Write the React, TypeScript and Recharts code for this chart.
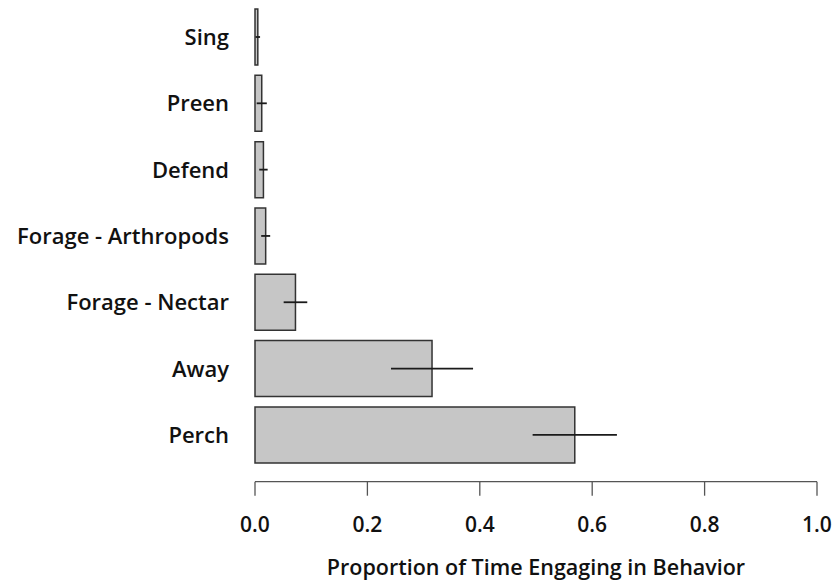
import { BarChart, Bar, XAxis, YAxis, ErrorBar, Label } from "recharts";

const behaviors = ["Sing", "Preen", "Defend", "Forage - Arthropods", "Forage - Nectar", "Away", "Perch"];
const proportions = [0.005, 0.012, 0.015, 0.019, 0.072, 0.315, 0.569];
const errors = [0.004, 0.009, 0.0075, 0.008, 0.021, 0.073, 0.075];
const xTicks = [0, 0.2, 0.4, 0.6, 0.8, 1.0];

const data = behaviors.map((name, i) => ({ name, value: proportions[i], err: errors[i] }));

const FONT = "'Open Sans', Roboto, sans-serif";
const INK = "#111111";

export default function App() {
  return (
    <div style={{ position: "absolute", left: 0, top: 0, background: "#fff" }}>
      <BarChart
        width={834}
        height={584}
        data={data}
        layout="vertical"
        margin={{ top: 4, right: 17, bottom: 0, left: 0 }}
        barCategoryGap={5}
      >
        <YAxis
          type="category"
          dataKey="name"
          width={255}
          axisLine={false}
          tickLine={false}
          tickSize={0}
          tickMargin={26}
          padding={{ top: 0, bottom: 13.5 }}
          tick={{ fontSize: 22, fontFamily: FONT, fontWeight: 600, fill: INK }}
        />
        <XAxis
          type="number"
          domain={[0, 1]}
          ticks={xTicks}
          height={102.3}
          tickSize={14}
          tickMargin={21}
          tickFormatter={(v: number) => v.toFixed(1)}
          axisLine={{ stroke: "#555", strokeWidth: 1.3 }}
          tickLine={{ stroke: "#555", strokeWidth: 1.3 }}
          tick={{ fontSize: 21, fontFamily: FONT, fontWeight: 600, fill: INK }}
        >
          <Label
            value="Proportion of Time Engaging in Behavior"
            position="insideBottom"
            offset={9}
            style={{ fontSize: 21.5, fontFamily: FONT, fontWeight: 600, fill: INK }}
          />
        </XAxis>
        <Bar dataKey="value" fill="#c6c6c6" stroke="#333" strokeWidth={1.5} isAnimationActive={false}>
          <ErrorBar dataKey="err" direction="x" width={0} stroke="#1a1a1a" strokeWidth={1.8} />
        </Bar>
      </BarChart>
    </div>
  );
}
